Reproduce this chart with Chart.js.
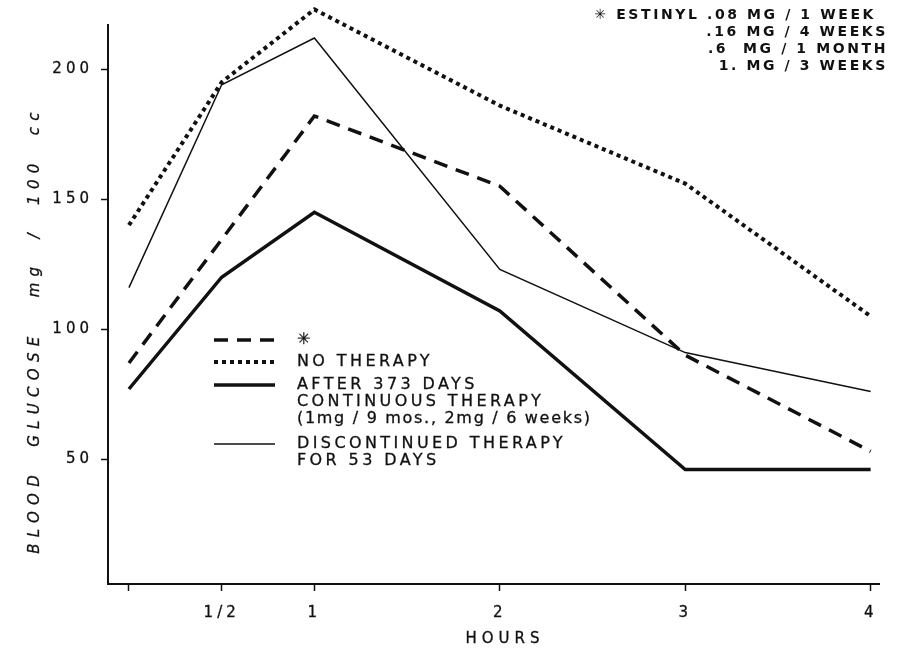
<!DOCTYPE html>
<html>
<head>
<meta charset="utf-8">
<script src="https://cdn.jsdelivr.net/npm/chart.js@4.4.1/dist/chart.umd.min.js"></script>
<style>
html, body { margin: 0; padding: 0; background: #fff; }
#wrap { width: 900px; height: 652px; }
</style>
</head>
<body>
<div id="wrap"><canvas id="chart"></canvas></div>
<script>
// data
const hours = [0, 0.5, 1, 2, 3, 4];
const hourLabels = ['', '1/2', '1', '2', '3', '4'];
const glucoseTicks = [50, 100, 150, 200];

const estinyl = [87, null, 182, 155, 90, 53];
const noTherapy = [140, 195, 223, 186, 156, 105];
const after373 = [77, 120, 145, 107, 46, 46];
const discontinued = [116, 194, 212, 123, 91, 76];

const legendLines = [
    ['✳'],
    ['NO THERAPY'],
    ['AFTER 373 DAYS', 'CONTINUOUS THERAPY', '(1mg / 9 mos., 2mg / 6 weeks)'],
    ['DISCONTINUED THERAPY', 'FOR 53 DAYS']
];
const noteLines = ['✳ ESTINYL .08 MG / 1 WEEK', '.16 MG / 4 WEEKS', '.6  MG / 1 MONTH', '1. MG / 3 WEEKS'];

const ink = '#111';

function points(values) {
    return hours.map((h, i) => ({ x: h, y: values[i] }));
}

function series(label, values, width, dash) {
    return {
        label: label,
        data: points(values),
        borderColor: ink,
        borderWidth: width,
        borderDash: dash,
        borderCapStyle: 'butt',
        borderJoinStyle: 'miter',
        pointRadius: 0,
        fill: false,
        tension: 0,
        spanGaps: true,
        clip: false
    };
}

// draws text a little heavier, like the inked lettering
function inkText(ctx, t, x, y) {
    ctx.fillText(t, x, y);
    ctx.strokeText(t, x, y);
}

// legend, note in the corner and axis titles (letter spaced like the lettering guide)
const decorations = {
    id: 'decorations',
    beforeDraw(chart) {
        chart.ctx.letterSpacing = '4px';
    },
    afterDraw(chart) {
        const ctx = chart.ctx;
        ctx.save();
        ctx.fillStyle = ink;
        ctx.strokeStyle = ink;
        ctx.textBaseline = 'middle';
        ctx.textAlign = 'left';

        const rows = [340, 362, 385, 444];
        chart.data.datasets.forEach((ds, i) => {
            ctx.save();
            ctx.lineWidth = ds.borderWidth;
            ctx.setLineDash(ds.borderDash || []);
            ctx.beginPath();
            ctx.moveTo(214, rows[i]);
            ctx.lineTo(275, rows[i]);
            ctx.stroke();
            ctx.restore();
            ctx.font = '16px "DejaVu Sans"';
            ctx.lineWidth = 0.3;
            legendLines[i].forEach((t, j) => {
                // lower case line is set tighter
                ctx.letterSpacing = /[a-z]/.test(t) ? '1.7px' : '3.4px';
                inkText(ctx, t, 297, rows[i] + j * 16.8);
            });
        });

        ctx.font = 'bold 14px "DejaVu Sans"';
        ctx.letterSpacing = '2.6px';
        ctx.textAlign = 'right';
        const ends = [876, 888, 888, 888];
        noteLines.forEach((t, i) => ctx.fillText(t, ends[i], 15 + i * 17));

        ctx.textAlign = 'center';
        ctx.font = '15px "DejaVu Sans"';
        ctx.letterSpacing = '5px';
        ctx.lineWidth = 0.3;
        inkText(ctx, 'HOURS', 505, 639);

        ctx.translate(35, 330);
        ctx.rotate(-Math.PI / 2);
        ctx.font = 'italic 15px "DejaVu Sans"';
        ctx.letterSpacing = '6.3px';
        inkText(ctx, 'BLOOD  GLUCOSE   mg  /  100  cc', 0, 0);
        ctx.restore();
    }
};

const ctx = document.getElementById('chart').getContext('2d');
const chart = new Chart(ctx, {
    type: 'line',
    data: {
        datasets: [
            series('✳', estinyl, 3.5, [14, 9]),
            series('NO THERAPY', noTherapy, 4, [4, 4]),
            series('AFTER 373 DAYS CONTINUOUS THERAPY', after373, 3.5, []),
            series('DISCONTINUED THERAPY FOR 53 DAYS', discontinued, 1.5, [])
        ]
    },
    options: {
        responsive: true,
        maintainAspectRatio: false,
        animation: false,
        layout: { padding: { left: 0, top: 25, right: 21, bottom: 0 } },
        plugins: {
            legend: { display: false },
            tooltip: { enabled: false }
        },
        scales: {
            x: {
                type: 'linear',
                min: -0.113,
                max: 4.045,
                afterBuildTicks: scale => { scale.ticks = hours.map(v => ({ value: v })); },
                afterFit: scale => { scale.height = 68; },
                ticks: {
                    color: ink,
                    font: { family: 'DejaVu Sans', size: 15 },
                    textStrokeColor: ink,
                    textStrokeWidth: 0.3,
                    padding: 13,
                    maxRotation: 0,
                    autoSkip: false,
                    callback: v => hourLabels[hours.indexOf(v)]
                },
                grid: { drawOnChartArea: false, drawTicks: true, tickLength: 7, tickWidth: 1.5, color: ink },
                border: { display: true, color: ink, width: 2 }
            },
            y: {
                min: 2,
                max: 217,
                afterBuildTicks: scale => { scale.ticks = glucoseTicks.map(v => ({ value: v })); },
                afterFit: scale => { scale.width = 108; },
                ticks: {
                    color: ink,
                    font: { family: 'DejaVu Sans', size: 15 },
                    textStrokeColor: ink,
                    textStrokeWidth: 0.3,
                    padding: 8
                },
                grid: { drawOnChartArea: false, drawTicks: true, tickLength: 7, tickWidth: 1.5, color: ink },
                border: { display: true, color: ink, width: 2 }
            }
        }
    },
    plugins: [decorations]
});
</script>
</body>
</html>
